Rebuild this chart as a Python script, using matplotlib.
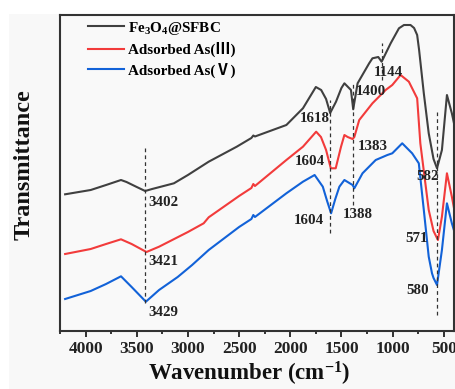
import matplotlib
matplotlib.use("Agg")
import matplotlib.pyplot as plt
from matplotlib.patches import Rectangle

plt.rcParams['font.family'] = ['Liberation Serif', 'Noto Sans CJK SC', 'DejaVu Sans']
plt.rcParams['font.weight'] = 'bold'
plt.rcParams['mathtext.fontset'] = 'custom'
plt.rcParams['mathtext.rm'] = 'Liberation Serif:bold'
plt.rcParams['mathtext.bf'] = 'Liberation Serif:bold'
plt.rcParams['mathtext.it'] = 'Liberation Serif:bold'

# ---- data ----
wn_fe = [4200, 3950, 3800, 3654, 3600, 3500, 3418, 3350, 3200, 3137, 3000, 2797, 2523,
         2380, 2361, 2345, 2038, 1876, 1750, 1698, 1650, 1610, 1553, 1500, 1471, 1407,
         1385, 1342, 1229, 1197, 1140, 1107, 1019, 938, 889, 825, 790, 760, 741, 695,
         647, 600, 566, 518, 469, 421, 372]
t_fe = [136.7, 141, 146, 151, 149, 144, 140, 142, 146, 147.7, 156, 169.3, 184.3,
        193, 195.5, 194.5, 206, 222.7, 244, 241, 232, 218, 229.3, 243, 247.7, 241,
        221.7, 247.7, 267.7, 272.7, 274, 269.3, 287.7, 302.7, 306, 306, 303, 296, 281, 237.7,
        197.7, 172, 162.7, 181, 236, 217.7, 194.3]

wn_as3 = [4200, 3950, 3800, 3654, 3550, 3405, 3282, 3000, 2846, 2797, 2500, 2380, 2361,
          2345, 2038, 1876, 1747, 1700, 1650, 1604, 1556, 1504, 1471, 1439, 1391, 1374,
          1326, 1197, 1068, 1003, 922, 841, 760, 729, 647, 600, 557, 518, 469, 421, 372]
t_as3 = [77, 82, 87, 91.7, 87, 79, 84.3, 99, 107.7, 113.7, 135, 143, 147,
         145, 171, 184.3, 199.3, 194, 181, 162.7, 162.7, 184.3, 196, 194, 192, 194,
         211, 227.7, 241, 246, 256, 249.3, 232.7, 187.7, 121, 100, 91, 114.3, 157.7, 134.3, 107.7]

wn_as5 = [4200, 3950, 3800, 3654, 3550, 3411, 3282, 3100, 2959, 2797, 2500, 2380, 2361,
          2345, 2038, 1876, 1762, 1682, 1640, 1601, 1560, 1520, 1471, 1391, 1374, 1294,
          1165, 1051, 1003, 906, 809, 744, 695, 647, 615, 600, 566, 518, 469, 421, 372]
t_as5 = [32, 40, 47, 54.7, 44, 29.3, 41, 54, 66, 81, 104, 112, 116,
         114, 137.7, 149.3, 156, 144.3, 130, 117.7, 132, 144.3, 151, 146, 142.7, 157.7,
         171, 176, 177.7, 187.7, 177.7, 167.7, 121, 74.3, 57.7, 53, 46, 81, 127.7, 107.7, 91]

series_labels = [r'Fe$_3$O$_4$@SFBC', 'Adsorbed As(Ⅲ)', 'Adsorbed As(Ⅴ)']
series_colors = ['#404040', '#f23b3b', '#1262d8']

# dashed marker lines: position, lower, upper
mark_wn = [3420, 1614, 1384, 1107, 571]
mark_lo = [28, 98, 126, 251, 16]
mark_hi = [183, 231, 249, 288, 219]

# peak annotations
ann_text = ['3402', '3421', '3429', '1618', '1604', '1604', '1400', '1383', '1388',
            '1144', '582', '571', '580']
ann_x = [3243, 3243, 3243, 1762, 1811, 1818, 1211, 1192, 1342, 1044, 659, 766, 751]
ann_y = [128.5, 69.3, 18, 213, 169.3, 110, 239.7, 184.3, 117, 259, 155, 92, 40]

xticks = [4000, 3500, 3000, 2500, 2000, 1500, 1000, 500]

# ---- figure ----
W, H = 456, 389
fig = plt.figure(figsize=(W / 100, H / 100), dpi=100, facecolor='white')
fig.patches.append(Rectangle((9 / W, 0), 1, (H - 14) / H, transform=fig.transFigure,
                             facecolor='#f8f8f8', edgecolor='none', zorder=-10))
ax = fig.add_axes([60 / W, (H - 331) / H, (454 - 60) / W, (331 - 15) / H])
ax.set_facecolor('#f9f9f9')

for wn, t, lab, col in zip([wn_fe, wn_as3, wn_as5], [t_fe, t_as3, t_as5],
                           series_labels, series_colors):
    ax.plot(wn, t, color=col, lw=1.5, label=lab, solid_joinstyle='round')

ax.vlines(mark_wn, mark_lo, mark_hi, colors='#333333', linestyles=(0, (3, 2.5)), lw=0.9)

for s, x, y in zip(ann_text, ann_x, ann_y):
    ax.text(x, y, s, ha='center', va='center', fontsize=10.8, fontweight='bold', color='#222222')

ax.set_xlim(4200, 400)
ax.set_ylim(0, 316)
ax.set_xticks(xticks)
ax.set_xticks(range(4250, 399, -250), minor=True)
ax.set_yticks([])
ax.tick_params(axis='x', which='major', direction='out', length=4, width=1.3,
               labelsize=12.5, colors='#222222', pad=3)
ax.tick_params(axis='x', which='minor', direction='out', length=2.5, width=1.1)
for lbl in ax.get_xticklabels():
    lbl.set_fontweight('bold')
for sp in ax.spines.values():
    sp.set_linewidth(1.5)
    sp.set_color('#333333')

xl = ax.set_xlabel('Wavenumber (cm$^{-1}$)', fontsize=16.5, fontweight='bold', color='#111111')
xl.set_verticalalignment('center')
ax.xaxis.set_label_coords((249 - 60) / 394, (331 - 374) / 316)
yl = ax.set_ylabel('Transmittance', fontsize=17.5, fontweight='bold', color='#111111')
yl.set_verticalalignment('center')
ax.yaxis.set_label_coords((24 - 60) / 394, (331 - 165) / 316)

leg = ax.legend(loc='upper left', bbox_to_anchor=(0.071, 0.985), frameon=False,
                fontsize=10.9, handlelength=2.4, handletextpad=0.25, labelspacing=0.35,
                borderpad=0, borderaxespad=0)
for txt in leg.get_texts():
    txt.set_fontweight('bold')

fig.savefig('out.png', dpi=100, facecolor=fig.get_facecolor())
